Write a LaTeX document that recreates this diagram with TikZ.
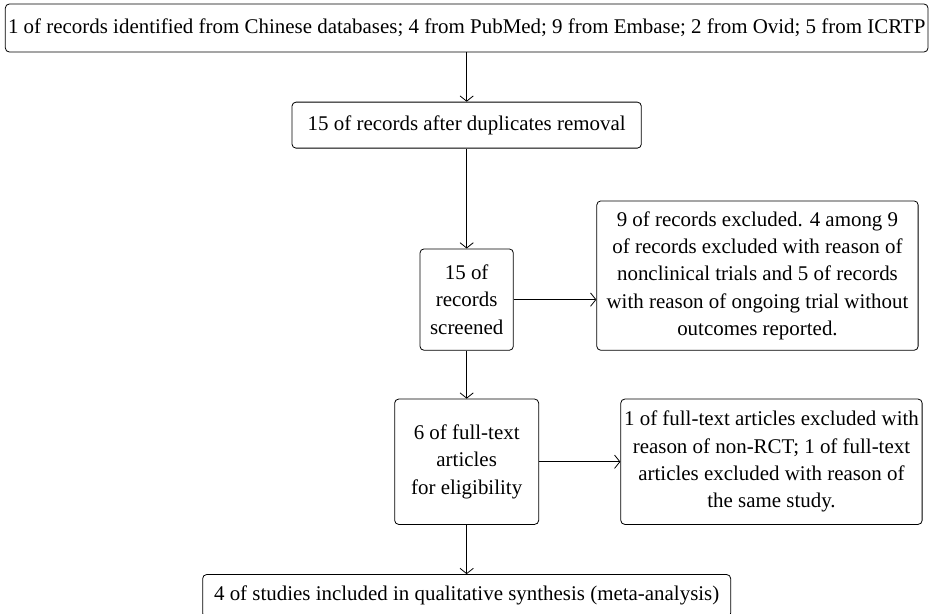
\documentclass[tikz,border=0pt]{standalone}
\usepackage{fontspec}
\setmainfont{Liberation Serif}
\usetikzlibrary{arrows.meta,positioning}

\begin{document}
\begin{tikzpicture}[
  node distance=37pt and 62pt,
  box/.style={draw,rounded corners=3pt,line width=0.6pt,align=center,inner sep=1pt,
    font=\fontsize{15.7}{20.5}\selectfont},
  arr/.style={-{Straight Barb[length=4pt,width=10pt]},line width=0.6pt}
]
\useasboundingbox (0,0) rectangle (699pt,-460.5pt);
\node[box,minimum width=692pt,minimum height=36pt] (ident) at (350pt,-21pt)
  {1 of records identified from Chinese databases; 4 from PubMed; 9 from Embase; 2 from Ovid; 5 from ICRTP};
\node[box,below=of ident,minimum width=262pt,minimum height=34.5pt] (dupl)
  {15 of records after duplicates removal};
\node[box,below=75pt of dupl,minimum width=70pt,minimum height=76pt] (screen)
  {15 of\\records\\screened};
\node[box,right=of screen,yshift=18pt,minimum width=241pt,minimum height=112pt] (excl)
  {9 of records excluded. 4 among 9\\of records excluded with reason of\\nonclinical trials and 5 of records\\with reason of ongoing trial without\\outcomes reported.};
\node[box,below=36pt of screen,minimum width=108pt,minimum height=94pt] (full)
  {6 of full-text\\articles\\for eligibility};
\node[box,right=61pt of full,minimum width=226pt,minimum height=94pt] (fexcl)
  {1 of full-text articles excluded with\\reason of non-RCT; 1 of full-text\\articles excluded with reason of\\the same study.};
\node[box,below=37pt of full,minimum width=396pt,minimum height=32pt] (incl)
  {4 of studies included in qualitative synthesis (meta-analysis)};
\draw[arr] (ident) -- (dupl);
\draw[arr] (dupl) -- (screen);
\draw[arr] (screen.east) -- (screen.east -| excl.west);
\draw[arr] (screen) -- (full);
\draw[arr] (full) -- (fexcl);
\draw[arr] (full) -- (incl);
\end{tikzpicture}
\end{document}
